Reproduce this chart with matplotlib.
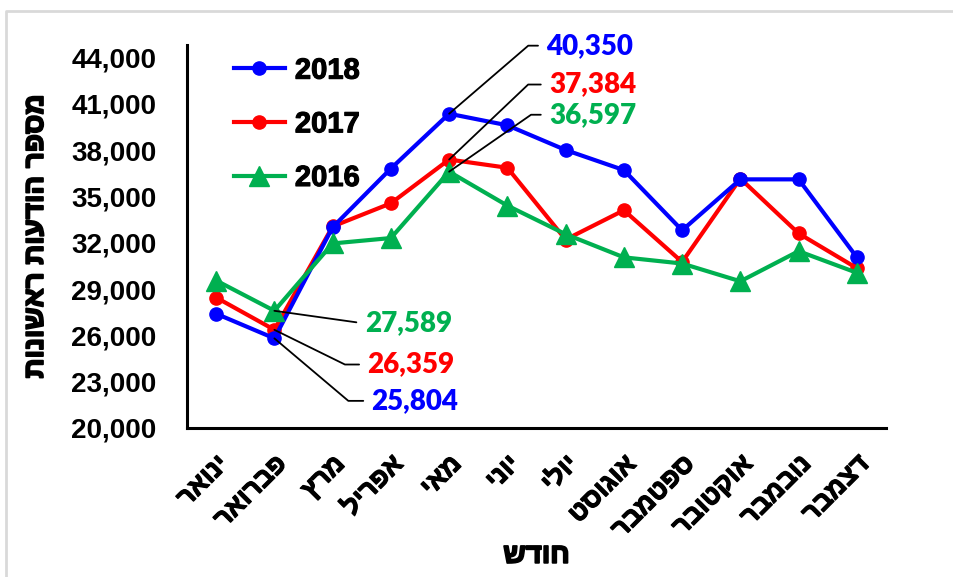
import numpy as np
import matplotlib
matplotlib.use("Agg")
import matplotlib.pyplot as plt
import matplotlib.patheffects as pe
import matplotlib.transforms as mtrans
from matplotlib.font_manager import FontProperties
from matplotlib.lines import Line2D

plt.rcParams['font.family'] = ['Liberation Sans', 'DejaVu Sans']

MONTHS = ["ינואר", "פברואר", "מרץ", "אפריל", "מאי", "יוני",
          "יולי", "אוגוסט", "ספטמבר", "אוקטובר", "נובמבר", "דצמבר"]
Y_LABEL = "מספר הודעות ראשונות"
X_LABEL = "חודש"

vals_2018 = [27400, 25804, 33000, 36800, 40350, 39600,
             38000, 36700, 32800, 36100, 36100, 31050]
vals_2017 = [28450, 26359, 33050, 34550, 37384, 36850,
             32200, 34100, 30750, 36150, 32600, 30350]
vals_2016 = [29550, 27589, 31950, 32300, 36597, 34400,
             32550, 31050, 30650, 29500, 31450, 30050]

YTICKS = list(range(20000, 44001, 3000))


def rtl(s):
    # matplotlib has no bidi support, so flip Hebrew for display
    return s[::-1]


# the Hebrew glyphs come out light, so thicken them a little
heavy = [pe.withStroke(linewidth=1.3, foreground="black")]
medium = [pe.withStroke(linewidth=0.9, foreground="black")]

fig = plt.figure(figsize=(9.54, 5.77), dpi=100)
ax = fig.add_axes([187/954, 1 - 428/577, 699/954, 383/577])

x = np.arange(len(MONTHS))
l17, = ax.plot(x, vals_2017, color="#FF0000", lw=3, marker="o", ms=9.5,
               label="2017", zorder=3)
l18, = ax.plot(x, vals_2018, color="#0000FF", lw=3, marker="o", ms=9.5,
               label="2018", zorder=4)
l16, = ax.plot(x, vals_2016, color="#00B050", lw=3, marker="^", ms=14,
               label="2016", zorder=5)

ax.set_xlim(-0.5, 11.5)
ax.set_ylim(20000, 44800)
ax.set_yticks(YTICKS)
ax.set_yticklabels([f"{v:,}" for v in YTICKS], fontsize=20, fontweight="bold")
ax.set_xticks(x)
ax.set_xticklabels([rtl(m) for m in MONTHS], rotation=45, ha="right",
                   va="top", rotation_mode="anchor", fontsize=19,
                   fontweight="bold")
shift = mtrans.ScaledTranslation(-6/100, 0, fig.dpi_scale_trans)
for t in ax.get_xticklabels():
    t.set_path_effects(medium)
    t.set_transform(t.get_transform() + shift)
ax.tick_params(axis="y", length=0, pad=22)
ax.tick_params(axis="x", length=0, pad=17)

for side in ["top", "right"]:
    ax.spines[side].set_visible(False)
for side in ["left", "bottom"]:
    ax.spines[side].set_linewidth(2.2)

ax.set_ylabel(rtl(Y_LABEL), fontsize=20, fontweight="bold", labelpad=16,
              path_effects=heavy)
ax.set_xlabel(rtl(X_LABEL), fontsize=20, fontweight="bold", labelpad=0,
              path_effects=heavy)

leg_font = FontProperties(family=["Liberation Sans", "DejaVu Sans"],
                          weight="bold", size=21)
leg = ax.legend(handles=[l18, l17, l16], loc="upper left",
                bbox_to_anchor=(0.05, 1.0), frameon=False, prop=leg_font,
                handlelength=1.75, labelspacing=0.88, handletextpad=0.35,
                borderaxespad=0)
for t in leg.get_texts():
    t.set_path_effects([pe.withStroke(linewidth=0.8, foreground="black")])

# leader-line labels: (month, value, colour, text offset in points, line angle)
callouts = [
    (4, vals_2018[4], "#0000FF", (70, 49), 40.7),
    (4, vals_2017[4], "#FF0000", (72, 54), 43.5),
    (4, vals_2016[4], "#00B050", (72, 41), 34.8),
    (1, vals_2016[1], "#00B050", (65, -9), -8),
    (1, vals_2017[1], "#FF0000", (67, -25), -26.2),
    (1, vals_2018[1], "#0000FF", (70, -45), -40.2),
]
for xi, v, c, off, ang in callouts:
    ax.annotate(f"{v:,}", xy=(xi, v), xytext=off, textcoords="offset points",
                ha="left", va="center", color=c, fontsize=20,
                fontweight="heavy", family=["Lato", "DejaVu Sans"],
                arrowprops=dict(arrowstyle="-", color="black", lw=1.3,
                                shrinkA=4, shrinkB=0,
                                connectionstyle=f"angle,angleA=0,angleB={ang},rad=0"),
                zorder=6)

# thin grey frame along the top and left of the picture
fx = 6/954
fy = 1 - 11/577
fig.add_artist(Line2D([fx, fx, 1], [0, fy, fy], transform=fig.transFigure,
                      color="#d9d9d9", lw=2))

fig.savefig("out.png", dpi=100)
